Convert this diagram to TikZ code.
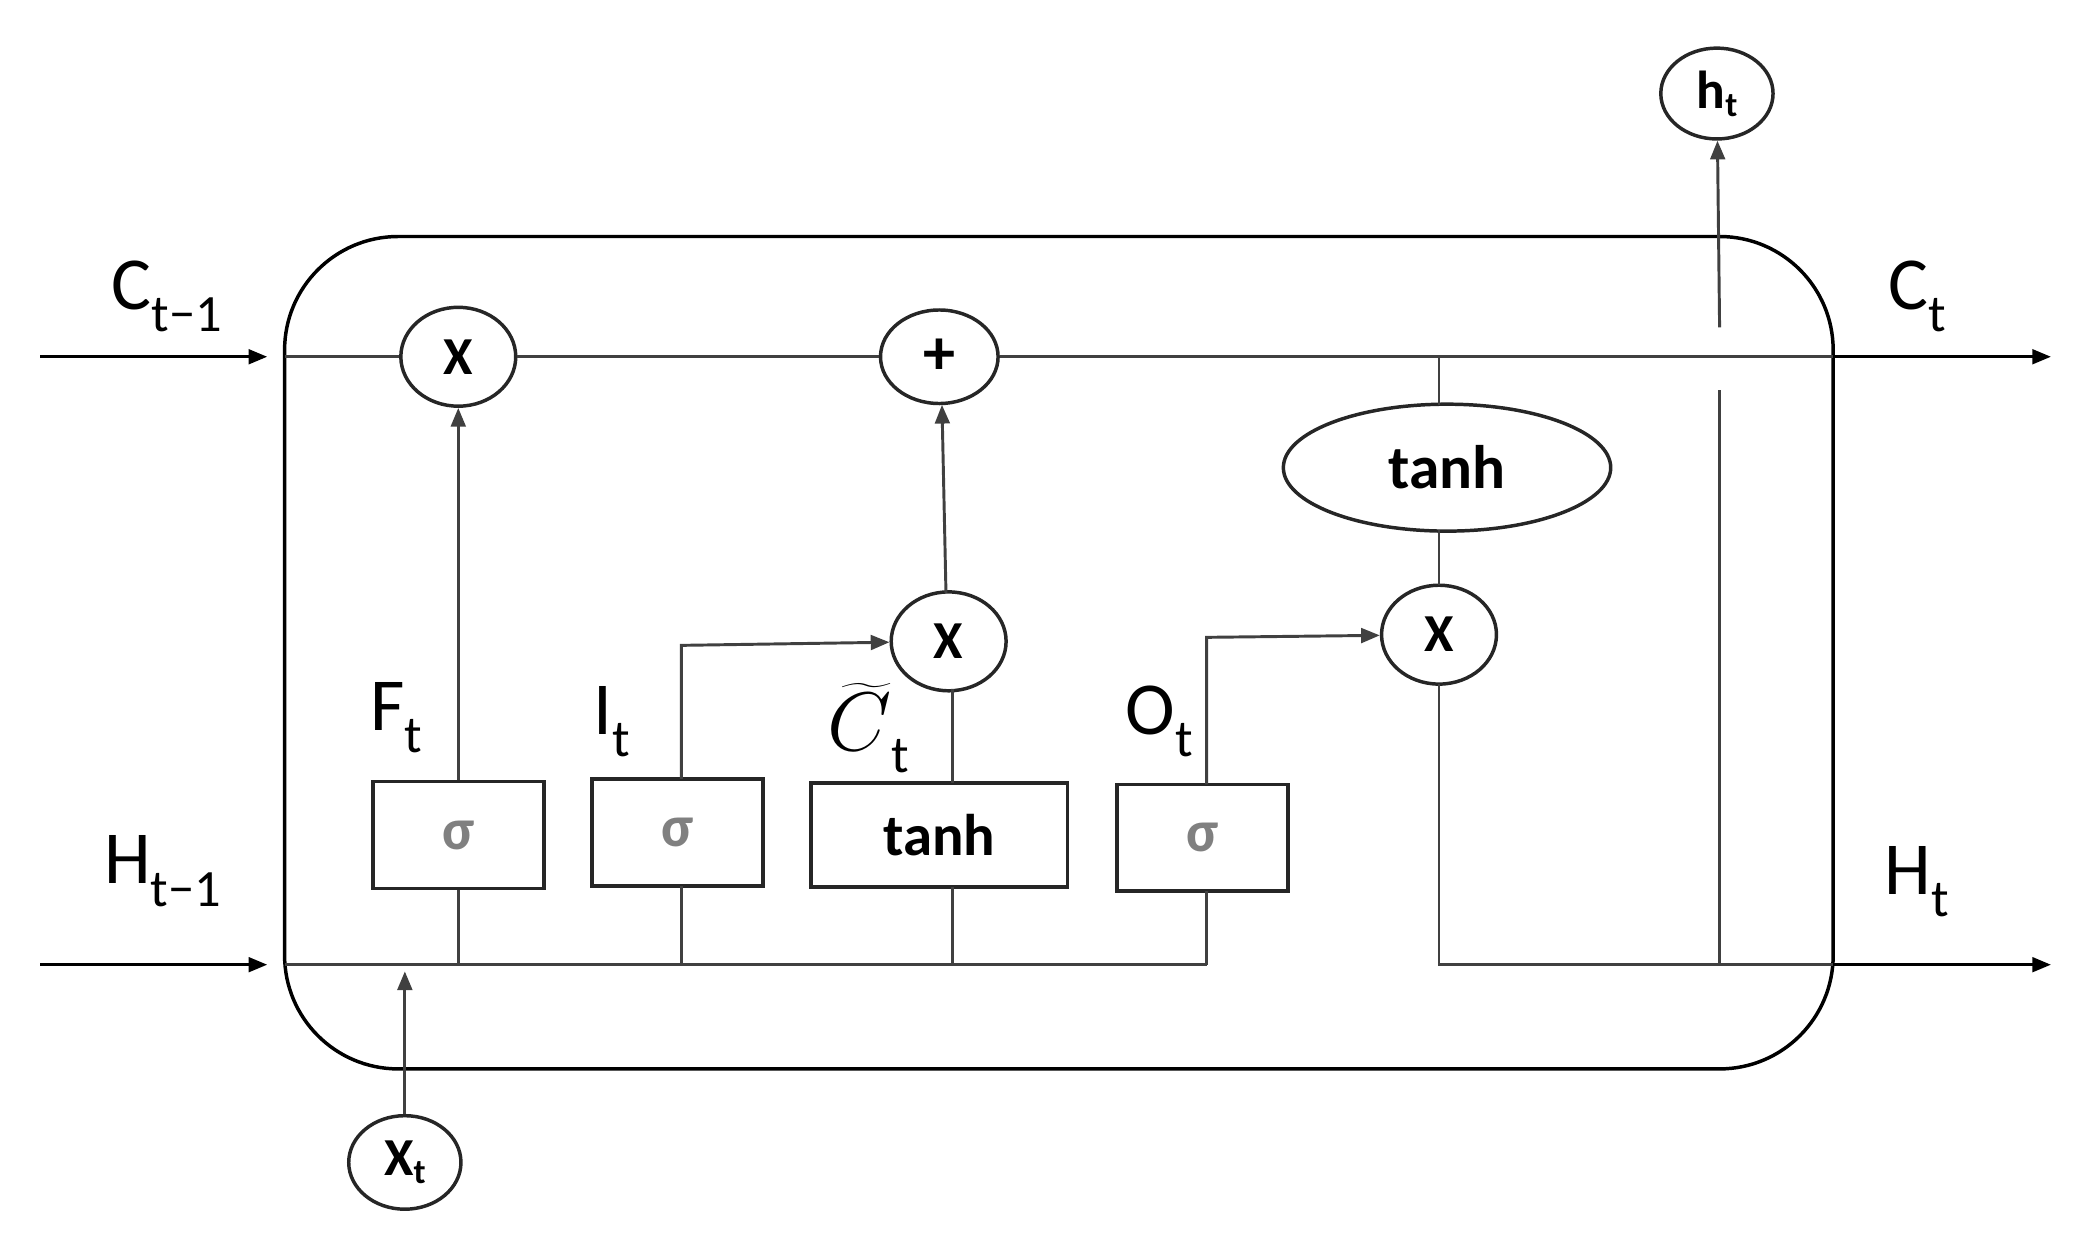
\documentclass[tikz,border=0pt]{standalone}
\usepackage{fontspec}
\setmainfont{Carlito}
\usepackage{graphicx}
\usetikzlibrary{shapes.geometric,arrows.meta}
\begin{document}
\begin{tikzpicture}[x=1pt,y=-1pt,
 ln/.style={line width=2.2pt,draw=black!75},
 ar/.style={ln,-{Triangle[length=14pt,width=11pt]}},
 op/.style={ellipse,draw=black!85,line width=2.6pt,minimum width=86pt,minimum height=74pt,inner sep=0pt,font=\fontsize{40}{40}\selectfont\bfseries},
 bx/.style={rectangle,draw=black!85,line width=2.6pt,minimum width=128pt,minimum height=80pt,inner sep=0pt,font=\fontsize{44}{44}\selectfont\bfseries},
 lb/.style={font=\fontsize{56}{56}\selectfont}]
\useasboundingbox (0,0) rectangle (1553,924);
\draw[line width=2.6pt,rounded corners=85pt] (213,177) rectangle (1372,800);
% nodes
\node[op] (f) at (343,267) {X};
\node[op,minimum width=88pt,minimum height=70pt,font=\fontsize{48}{48}\selectfont\bfseries] (p) at (703,267) {+};
\node[ellipse,draw=black!85,line width=2.6pt,minimum width=245pt,minimum height=95pt,font=\fontsize{46}{46}\selectfont\bfseries] (th) at (1083,350) {tanh};
\node[op] (m1) at (710,480) {X};
\node[op] (m2) at (1077,475) {X};
\node[bx,text=black!50] (s1) at (343,625) {σ};
\node[bx,text=black!50] (s2) at (507,623) {σ};
\node[bx,minimum width=192pt,minimum height=78pt] (tb) at (703,625) {tanh};
\node[bx,text=black!50] (s3) at (900,627) {σ};
\node[op,minimum width=84pt,minimum height=70pt] (xt) at (303,870) {X\raisebox{-0.3ex}{\fontsize{26}{26}\selectfont t}};
\node[op,minimum width=84pt,minimum height=68pt] (ht) at (1285,70) {h\raisebox{-0.3ex}{\fontsize{26}{26}\selectfont t}};
\coordinate (cin0) at (30,267); \coordinate (cin1) at (200,267);
\coordinate (cb) at (213,267); \coordinate (cout) at (1535,267);
\coordinate (hin0) at (30,722); \coordinate (hin1) at (200,722);
\coordinate (hb) at (213,722); \coordinate (hend) at (903,722);
\coordinate (hout) at (1535,722);
% cell line
\draw[ar,draw=black] (cin0) -- (cin1);
\draw[ln] (cb) -- (f) -- (p) -- (1372,267);
\draw[ar,draw=black] (1372,267) -- (cout);
% hidden input
\draw[ar,draw=black] (hin0) -- (hin1);
\draw[ln] (hb) -- (hend);
\draw[ln] (s1) -- (343,722);
\draw[ln] (510,663) -- (510,722);
\draw[ln] (713,664) -- (713,722);
\draw[ln] (903,667) -- (hend);
\draw[ar] (xt) -- (303,727);
% gates
\draw[ar] (s1) -- (f);
\draw[ar] (510,583) -- (510,483) -- (m1);
\draw[ln] (713,586) -- (713,516);
\draw[ar] (708,444) -- (705,303);
\draw[ar] (903,587) -- (903,477) -- (m2);
\draw[ln] (1077,267) -- (1077,303);
\draw[ln] (1077,397) -- (1077,438);
\draw[ln] (1077,512) -- (1077,722) -- (1372,722);
\draw[ar,draw=black] (1372,722) -- (hout);
\draw[ln] (1287,722) -- (1287,292);
\draw[ar] (1287,245) -- (ht);
% labels
\node[lb] at (125,222) {C\textsubscript{t−1}};
\node[lb] at (1435,222) {C\textsubscript{t}};
\node[lb] at (122,652) {H\textsubscript{t−1}};
\node[lb] at (1435,660) {H\textsubscript{t}};
\node[lb] at (297,537) {F\textsubscript{t}};
\node[lb] at (458,540) {I\textsubscript{t}};
\node[lb] at (650,545) {\scalebox{2.5}{$\widetilde{C}$}\textsubscript{t}};
\node[lb] at (868,540) {O\textsubscript{t}};
\end{tikzpicture}
\end{document}
